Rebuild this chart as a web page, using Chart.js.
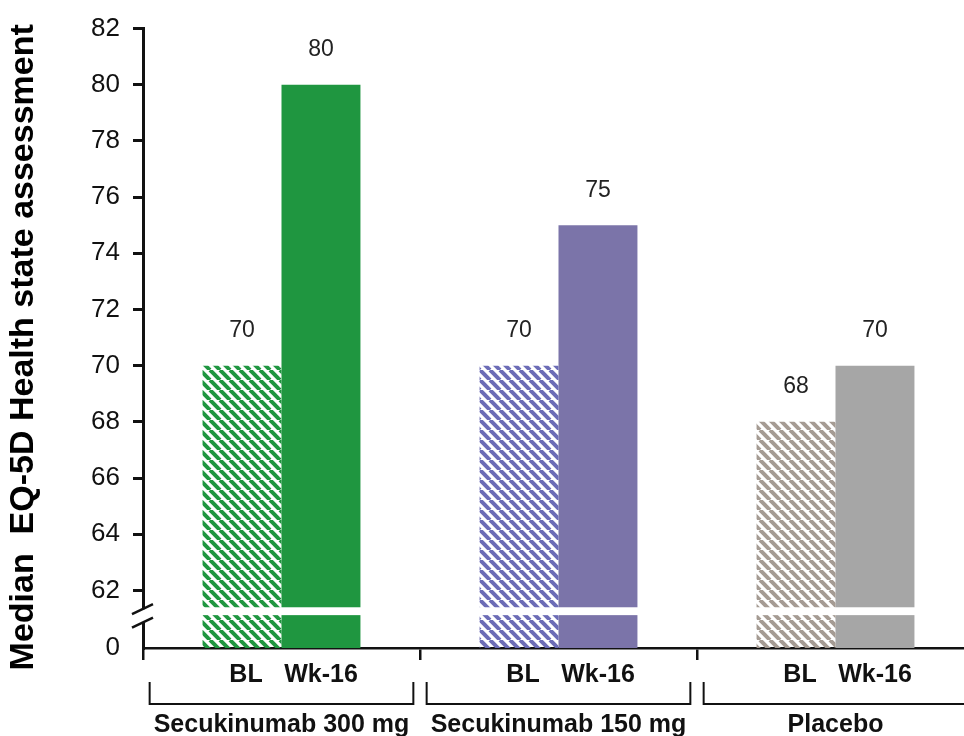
<!DOCTYPE html>
<html>
<head>
<meta charset="utf-8">
<script src="https://cdn.jsdelivr.net/npm/chart.js@4.4.0/dist/chart.umd.min.js"></script>
<style>
  html, body { margin: 0; padding: 0; overflow: hidden; background: #fff; }
  #wrap { width: 980px; height: 736px; }
</style>
</head>
<body>
<div id="wrap"><canvas id="chart" width="980" height="736"></canvas></div>
<script>
// Median EQ-5D health state, baseline vs week 16
const groups = ['Secukinumab 300 mg', 'Secukinumab 150 mg', 'Placebo'];
const seriesNames = ['BL', 'Wk-16'];
const blValues = [70, 70, 68];
const wk16Values = [80, 75, 70];
const yTickValues = [62, 64, 66, 68, 70, 72, 74, 76, 78, 80, 82];
const zeroLabel = '0';
const yTitle = 'Median  EQ-5D Health state assessment';

// broken axis: the bottom of the scale stands for 0
const Y_MIN = 59.95, Y_MAX = 82;
const BREAK_TOP = 61.4, BREAK_BOTTOM = 61.12;

const FONT = '"Liberation Sans", Arial, sans-serif';
const solidColors = ['#1f9640', '#7b74a9', '#a6a6a6'];
const hatchColors = ['#1f9640', '#6c6cb6', '#a59b93'];

const canvas = document.getElementById('chart');
const ctx = canvas.getContext('2d');

function hatch(color) {
  const c = document.createElement('canvas');
  c.width = c.height = 10;
  const g = c.getContext('2d');
  g.strokeStyle = color;
  g.lineWidth = 4;
  for (const o of [-10, 0, 10]) {
    g.beginPath();
    g.moveTo(o, 0);
    g.lineTo(o + 10, 10);
    g.stroke();
  }
  return ctx.createPattern(c, 'repeat');
}

const decor = {
  id: 'decor',
  afterDatasetsDraw(chart) {
    const c = chart.ctx;
    const area = chart.chartArea;
    const x = chart.scales.x, y = chart.scales.y;
    c.save();

    // white break band across the bars and the y axis
    const yTop = y.getPixelForValue(BREAK_TOP);
    const yBot = y.getPixelForValue(BREAK_BOTTOM);
    c.fillStyle = '#fff';
    c.fillRect(area.left + 2, yTop, area.right - area.left, yBot - yTop);
    const s1 = y.getPixelForValue(61.33), s2 = y.getPixelForValue(60.85);
    c.fillRect(area.left - 3, s1, 6, s2 - s1);

    // break slashes
    c.strokeStyle = '#111';
    c.lineWidth = 2.5;
    for (const sy of [s1, s2]) {
      c.beginPath();
      c.moveTo(area.left - 11, sy + 5);
      c.lineTo(area.left + 10, sy - 5);
      c.stroke();
    }

    // value labels and BL / Wk-16 labels
    c.textAlign = 'center';
    c.textBaseline = 'middle';
    chart.data.datasets.forEach((ds, di) => {
      chart.getDatasetMeta(di).data.forEach((bar, i) => {
        c.font = '23px ' + FONT;
        c.fillStyle = '#222';
        c.fillText(String(ds.data[i][1]), bar.x, bar.y - 35);
        c.font = 'bold 25px ' + FONT;
        c.fillStyle = '#111';
        c.fillText(seriesNames[di], bar.x + (di === 0 ? 4 : 0), area.bottom + 27);
      });
    });

    // brackets and group names
    const step = x.getPixelForValue(1) - x.getPixelForValue(0);
    const half = step * 0.476;
    c.lineWidth = 2;
    groups.forEach((g, i) => {
      const cx = x.getPixelForValue(i);
      c.beginPath();
      c.moveTo(cx - half, area.bottom + 34);
      c.lineTo(cx - half, area.bottom + 56);
      c.lineTo(cx + half, area.bottom + 56);
      c.lineTo(cx + half, area.bottom + 34);
      c.stroke();
      c.font = 'bold 25px ' + FONT;
      c.fillText(g, cx, area.bottom + 77);
    });

    // y title
    c.save();
    c.translate(24, (area.top + area.bottom) / 2 + 9);
    c.rotate(-Math.PI / 2);
    c.font = 'bold 34px ' + FONT;
    c.fillStyle = '#000';
    c.fillText(yTitle, 0, 0);
    c.restore();

    c.restore();
  }
};

new Chart(canvas, {
  type: 'bar',
  data: {
    labels: groups,
    datasets: [
      {
        label: seriesNames[0],
        data: blValues.map(v => [Y_MIN, v]),
        backgroundColor: hatchColors.map(hatch),
        borderWidth: 0
      },
      {
        label: seriesNames[1],
        data: wk16Values.map(v => [Y_MIN, v]),
        backgroundColor: solidColors,
        borderWidth: 0
      }
    ]
  },
  options: {
    responsive: false,
    animation: false,
    devicePixelRatio: 1,
    layout: { padding: { left: 5, top: 24, right: 6, bottom: 0 } },
    datasets: { bar: { categoryPercentage: 0.57, barPercentage: 1.0 } },
    plugins: { legend: { display: false }, tooltip: { enabled: false } },
    scales: {
      x: {
        type: 'category',
        ticks: { display: false },
        grid: { offset: true, drawOnChartArea: false, drawTicks: true, tickLength: 12, lineWidth: 2.5, color: '#111' },
        border: { color: '#111', width: 2.5 },
        afterFit(scale) { scale.height = 88; }
      },
      y: {
        min: Y_MIN,
        max: Y_MAX,
        afterBuildTicks(scale) {
          scale.ticks = [Y_MIN].concat(yTickValues).map(v => ({ value: v }));
        },
        ticks: {
          padding: 13,
          color: '#111',
          font: { family: FONT, size: 26 },
          callback: v => (v === Y_MIN ? zeroLabel : String(v))
        },
        grid: {
          drawOnChartArea: false,
          drawTicks: true,
          tickLength: 10,
          lineWidth: 3,
          color: c => (c.tick && c.tick.value === Y_MIN ? 'rgba(0,0,0,0)' : '#111')
        },
        border: { color: '#111', width: 3 },
        afterFit(scale) { scale.width = 138; }
      }
    }
  },
  plugins: [decor]
});
</script>
</body>
</html>
